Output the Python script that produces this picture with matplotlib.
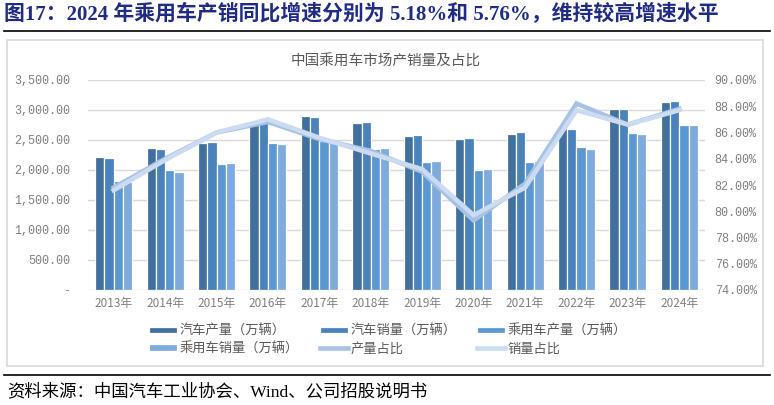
import numpy as np
import matplotlib
matplotlib.use('Agg')
import matplotlib.pyplot as plt
from matplotlib.lines import Line2D
from matplotlib.patches import Rectangle

plt.rcParams['font.family'] = ['Noto Sans CJK SC', 'DejaVu Sans']

years = ['2013年', '2014年', '2015年', '2016年', '2017年', '2018年',
         '2019年', '2020年', '2021年', '2022年', '2023年', '2024年']
# 万辆
car_prod = [2211.7, 2372.3, 2450.3, 2811.9, 2901.5, 2780.9,
            2572.1, 2522.5, 2608.2, 2702.1, 3016.1, 3128.2]
car_sales = [2198.4, 2349.2, 2459.8, 2802.8, 2887.9, 2808.1,
             2576.9, 2531.1, 2627.5, 2686.4, 3009.4, 3143.6]
pv_prod = [1808.5, 1992.0, 2107.9, 2442.1, 2480.7, 2352.9,
           2136.0, 1999.4, 2140.8, 2383.6, 2612.4, 2747.7]
pv_sales = [1792.9, 1970.1, 2114.6, 2437.7, 2471.8, 2371.0,
            2144.4, 2017.8, 2148.2, 2356.3, 2606.3, 2756.3]
# %
prod_share = [81.8, 84.0, 86.0, 86.8, 85.5, 84.6, 83.0, 79.3, 82.1, 88.2, 86.6, 87.8]
sales_share = [81.6, 83.9, 86.0, 87.0, 85.6, 84.4, 83.2, 79.7, 81.8, 87.7, 86.6, 87.7]

bar_names = ['汽车产量（万辆）', '汽车销量（万辆）', '乘用车产量（万辆）', '乘用车销量（万辆）']
bar_colors = ['#41709f', '#4a82bb', '#5b98d2', '#7eaadc']
line_names = ['产量占比', '销量占比']
line_colors = ['#a8c2e6', '#cbdbf1']

W, H = 774, 405
fig = plt.figure(figsize=(W / 100, H / 100), dpi=100)

# page title + rule
fig.text(4 / W, 1 - 15 / H, '图17：2024 年乘用车产销同比增速分别为 5.18%和 5.76%，维持较高增速水平',
         family=['Liberation Serif', 'Noto Sans CJK SC'], fontweight='bold',
         fontsize=15, color='#1f2b84', va='center', ha='left')
fig.add_artist(Line2D([4 / W, 770 / W], [1 - 31 / H, 1 - 31 / H], color='black', lw=1.2))

# chart frame
fig.add_artist(Rectangle((7 / W, 1 - 366 / H), 756 / W, 326 / H, fill=False,
                         edgecolor='#d9d9d9', lw=1.2))
fig.text(386 / W, 1 - 62 / H, '中国乘用车市场产销量及占比', fontsize=10.5,
         color='#595959', ha='center', va='center')

ax = fig.add_axes([88 / W, 1 - 290 / H, 617 / W, 210 / H])
x = np.arange(len(years))
bw = 0.18
series = [car_prod, car_sales, pv_prod, pv_sales]
bar_handles = []
for i, vals in enumerate(series):
    b = ax.bar(x + (i - 1.5) * bw, vals, bw, color=bar_colors[i],
               edgecolor='white', linewidth=0.9, label=bar_names[i], zorder=2)
    bar_handles.append(b)

ax.set_xlim(-0.5, len(years) - 0.5)
ax.set_ylim(0, 3500)
ax.set_yticks(np.arange(0, 3501, 500))
ax.set_yticklabels(['-' if v == 0 else f'{v:,.2f}' for v in np.arange(0, 3501, 500)],
                   family='Liberation Mono', fontsize=8.5, color='#7f7f7f')
ax.set_xticks(x)
ax.set_xticklabels(years, fontsize=8.5, color='#7f7f7f')
ax.tick_params(axis='both', length=0)
ax.tick_params(axis='y', pad=13)
ax.tick_params(axis='x', pad=5)
ax.grid(axis='y', color='#d9d9d9', lw=1, zorder=0)
ax.set_axisbelow(True)
for s in ax.spines.values():
    s.set_visible(False)

ax2 = ax.twinx()
line_handles = []
for vals, name, c in zip([prod_share, sales_share], line_names, line_colors):
    ln, = ax2.plot(x, vals, color=c, lw=3.3, label=name, solid_joinstyle='miter')
    line_handles.append(ln)
ax2.set_ylim(74, 90)
ax2.set_yticks(np.arange(74, 90.1, 2))
ax2.set_yticklabels([f'{v:.2f}%' for v in np.arange(74, 90.1, 2)],
                    family='Liberation Mono', fontsize=8.5, color='#7f7f7f')
ax2.tick_params(axis='y', length=0, pad=7)
for s in ax2.spines.values():
    s.set_visible(False)

# legend, row-major like the original
handles = bar_handles + line_handles
labels = bar_names + line_names
order = [0, 3, 1, 4, 2, 5]
fig.legend([handles[i] for i in order], [labels[i] for i in order], ncol=3,
           loc='center', bbox_to_anchor=(388 / W, 1 - 340 / H), frameon=False,
           fontsize=9.5, labelcolor='#595959', handlelength=2.1, handleheight=0.4,
           handletextpad=0.2, columnspacing=1.6, labelspacing=0.35,
           borderpad=0, borderaxespad=0)

# source
fig.add_artist(Line2D([4 / W, 770 / W], [1 - 375 / H, 1 - 375 / H], color='black', lw=1.2))
fig.text(7 / W, 1 - 392 / H, '资料来源：中国汽车工业协会、Wind、公司招股说明书',
         family=['Liberation Serif', 'Noto Sans CJK SC'], fontsize=12.5,
         color='black', va='center', ha='left')

fig.savefig('out.png', dpi=100)
